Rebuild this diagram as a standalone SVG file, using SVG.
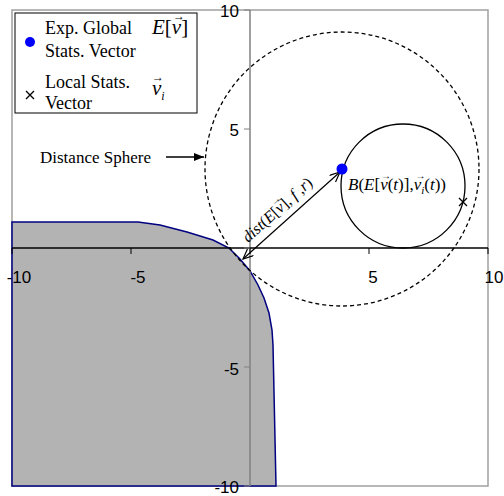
<svg xmlns="http://www.w3.org/2000/svg" width="504" height="496" viewBox="0 0 504 496">
<style>
.ser{font-family:"Liberation Serif","Times New Roman",serif;fill:#000}
.ax{font-family:"Liberation Sans",Arial,sans-serif;font-size:17px;fill:#000}
.it{font-style:italic}
.vec{font-family:"Liberation Serif","DejaVu Serif",serif;fill:#000;text-anchor:middle}
.tick{stroke:#000;stroke-width:1}
.vtick{stroke:#808080;stroke-width:1}
</style>
<defs>
<marker id="fillArrow" viewBox="0 0 10 8" refX="10" refY="4" markerWidth="10" markerHeight="8" markerUnits="userSpaceOnUse" orient="auto">
<path d="M0,0 L10,4 L0,8 z" fill="#000"/>
</marker>
<marker id="openArrow" viewBox="0 0 12 10" refX="11" refY="5" markerWidth="12" markerHeight="10" markerUnits="userSpaceOnUse" orient="auto-start-reverse">
<path d="M1,0.5 L11,5 L1,9.5" fill="none" stroke="#000" stroke-width="1.2"/>
</marker>
</defs>
<rect width="504" height="496" fill="#fff"/>
<g id="plot-frame">
<rect x="12" y="10" width="476" height="476" fill="none" stroke="#a0a0a0" stroke-width="1.5"/>
</g>
<g id="region">
<path d="M12,222 L138,222 L160,225 L187,232 L213,240 L229,248 L240,259 L250,271 L258,285 L264,298 L269,313 L272,330 L273,345 L276,486 L12,486 Z" fill="#b3b3b3" stroke="#000080" stroke-width="1.5"/>
</g>
<g id="axes">
<line x1="250" y1="10" x2="250" y2="486" stroke="#808080" stroke-width="1.5"/>
<line x1="12" y1="248" x2="488" y2="248" stroke="#000" stroke-width="1.3"/>
<line class="tick" x1="12" y1="248" x2="12" y2="254"/>
<line class="tick" x1="131" y1="248" x2="131" y2="254"/>
<line class="tick" x1="250" y1="248" x2="250" y2="254"/>
<line class="tick" x1="369" y1="248" x2="369" y2="254"/>
<line class="tick" x1="488" y1="248" x2="488" y2="254"/>
<line class="vtick" x1="244" y1="10" x2="250" y2="10"/>
<line class="vtick" x1="244" y1="129" x2="250" y2="129"/>
<line class="vtick" x1="244" y1="248" x2="250" y2="248"/>
<line class="vtick" x1="244" y1="367" x2="250" y2="367"/>
<line class="vtick" x1="244" y1="486" x2="250" y2="486"/>
<text class="ax" x="19" y="283" text-anchor="middle">-10</text>
<text class="ax" x="138" y="283" text-anchor="middle">-5</text>
<text class="ax" x="373" y="283" text-anchor="middle">5</text>
<text class="ax" x="494" y="283" text-anchor="middle">10</text>
<text class="ax" x="239" y="17" text-anchor="end">10</text>
<text class="ax" x="239" y="136" text-anchor="end">5</text>
<text class="ax" x="239" y="375" text-anchor="end">-5</text>
<text class="ax" x="239" y="493" text-anchor="end">-10</text>
</g>
<g id="distance-sphere">
<circle cx="342" cy="169" r="137" fill="none" stroke="#000" stroke-width="1.3" stroke-dasharray="4,3"/>
</g>
<g id="ball">
<circle cx="403" cy="186" r="62" fill="none" stroke="#000" stroke-width="1.3"/>
</g>
<g id="connectors">
<line x1="166" y1="157" x2="204" y2="157" stroke="#000" stroke-width="1.5" marker-end="url(#fillArrow)"/>
<line x1="340" y1="172" x2="243" y2="259" stroke="#000" stroke-width="1.2" marker-start="url(#openArrow)" marker-end="url(#openArrow)"/>
</g>
<g id="global-point">
<circle cx="342" cy="169" r="5.5" fill="#0000ff"/>
</g>
<g id="local-point">
<path d="M459,198 L467,206 M467,198 L459,206" stroke="#000" stroke-width="1.3"/>
</g>
<g id="labels">
<text class="ser" x="40" y="163" font-size="17">Distance Sphere</text>
<g transform="translate(248,243) rotate(-42)">
<text class="ser" x="0" y="0" font-size="16"><tspan class="it">dist</tspan>(<tspan class="it">E</tspan>[<tspan class="it">v</tspan>], <tspan class="it">f</tspan> ,<tspan class="it">r</tspan>)</text>
<text class="vec" x="49" y="-10" font-size="10">→</text>
</g>
<text class="ser" x="348" y="190" font-size="17"><tspan class="it">B</tspan>(<tspan class="it">E</tspan>[<tspan class="it">v</tspan>(<tspan class="it">t</tspan>)],<tspan class="it">v</tspan><tspan class="it" font-size="11" dy="4">i</tspan><tspan dy="-4">(</tspan><tspan class="it">t</tspan>))</text>
<text class="vec" x="386" y="179" font-size="10">→</text>
<text class="vec" x="420.5" y="179" font-size="10">→</text>
</g>
<g id="legend">
<rect x="15" y="13" width="182" height="100" fill="#fff" stroke="#000" stroke-width="1"/>
<circle cx="30" cy="42" r="5" fill="#0000ff"/>
<path d="M26,91 L34,99 M34,91 L26,99" stroke="#000" stroke-width="1.3"/>
<text class="ser" x="45" y="34" font-size="18">Exp. Global</text>
<text class="ser" x="45" y="57" font-size="18">Stats. Vector</text>
<text class="ser" x="45" y="88" font-size="18">Local Stats.</text>
<text class="ser" x="45" y="109" font-size="18">Vector</text>
<text class="ser" x="152" y="34" font-size="21"><tspan class="it">E</tspan>[<tspan class="it">v</tspan>]</text>
<text class="vec" x="179" y="20" font-size="12">→</text>
<text class="ser" x="152" y="95" font-size="21"><tspan class="it">v</tspan><tspan class="it" font-size="12" dy="5">i</tspan></text>
<text class="vec" x="158" y="81" font-size="12">→</text>
</g>
</svg>
